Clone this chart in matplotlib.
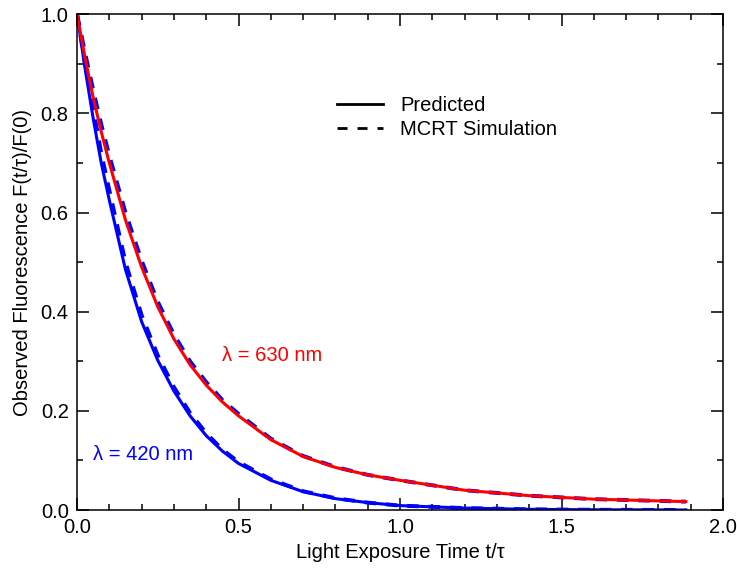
import numpy as np
import matplotlib.pyplot as plt
from matplotlib.lines import Line2D
from matplotlib.ticker import MultipleLocator

plt.rcParams['font.family'] = ['Liberation Sans', 'DejaVu Sans']

# values
t = [0.0, 0.025, 0.05, 0.075, 0.1, 0.15, 0.2, 0.25, 0.3, 0.35, 0.4, 0.45, 0.5,
     0.6, 0.7, 0.8, 0.9, 1.0, 1.2, 1.4, 1.6, 1.885]
pred_420 = [1.0, 0.89, 0.79, 0.70, 0.625, 0.485, 0.38, 0.302, 0.24, 0.19, 0.15, 0.119, 0.094,
            0.060, 0.037, 0.023, 0.015, 0.009, 0.004, 0.0015, 0.0006, 0.0002]
sim_420 = [1.0, 0.90, 0.81, 0.72, 0.645, 0.50, 0.393, 0.312, 0.248, 0.196, 0.155, 0.122, 0.097,
           0.062, 0.038, 0.024, 0.015, 0.009, 0.004, 0.0015, 0.0006, 0.0002]
pred_630 = [1.0, 0.912, 0.832, 0.763, 0.70, 0.585, 0.49, 0.41, 0.345, 0.293, 0.252, 0.218, 0.19,
            0.142, 0.108, 0.086, 0.071, 0.060, 0.040, 0.029, 0.022, 0.017]
sim_630 = [1.0, 0.922, 0.847, 0.778, 0.715, 0.60, 0.503, 0.42, 0.354, 0.30, 0.258, 0.222, 0.194,
           0.144, 0.109, 0.087, 0.071, 0.060, 0.040, 0.029, 0.022, 0.017]

fig = plt.figure(figsize=(7.37, 5.68), dpi=100)
ax = fig.add_axes([0.1045, 0.102, 0.8765, 0.873])

dash = (0, (3, 2.5))
ax.plot(t, sim_420, color='blue', lw=2.8, ls=dash)
ax.plot(t, pred_420, color='blue', lw=2.2)
ax.plot(t, sim_630, color='blue', lw=2.8, ls=dash)
ax.plot(t, pred_630, color='red', lw=2.2)

ax.set_xlim(0, 2.0)
ax.set_ylim(0, 1.0)
ax.xaxis.set_major_locator(MultipleLocator(0.5))
ax.xaxis.set_minor_locator(MultipleLocator(0.1))
ax.yaxis.set_major_locator(MultipleLocator(0.2))
ax.yaxis.set_minor_locator(MultipleLocator(0.1))
ax.xaxis.set_major_formatter(plt.FormatStrFormatter('%.1f'))
ax.yaxis.set_major_formatter(plt.FormatStrFormatter('%.1f'))
ax.tick_params(which='both', direction='in', top=True, right=True, width=1.1,
               labelsize=14.5, colors='black')
ax.tick_params(which='major', length=8.5, pad=6)
ax.tick_params(which='minor', length=4.5)
for s in ax.spines.values():
    s.set_linewidth(1.1)

ax.set_xlabel('Light Exposure Time t/\u03c4', fontsize=14.5, labelpad=4)
ax.set_ylabel('Observed Fluorescence F(t/\u03c4)/F(0)', fontsize=14.5, labelpad=6)

ax.text(0.449, 0.3125, '\u03bb = 630 nm', color='red', fontsize=14.5, va='center')
ax.text(0.05, 0.113, '\u03bb = 420 nm', color='blue', fontsize=14.5, va='center')

handles = [Line2D([], [], color='black', lw=2.0),
           Line2D([], [], color='black', lw=2.0, ls=(0, (3.6, 3.6)))]
ax.legend(handles, ['Predicted', 'MCRT Simulation'], frameon=False, fontsize=14.5,
          loc='upper left', bbox_to_anchor=(0.402, 0.835), borderaxespad=0, borderpad=0,
          handlelength=2.3, handletextpad=0.85, labelspacing=0.25)

fig.savefig('out.png', dpi=100)
